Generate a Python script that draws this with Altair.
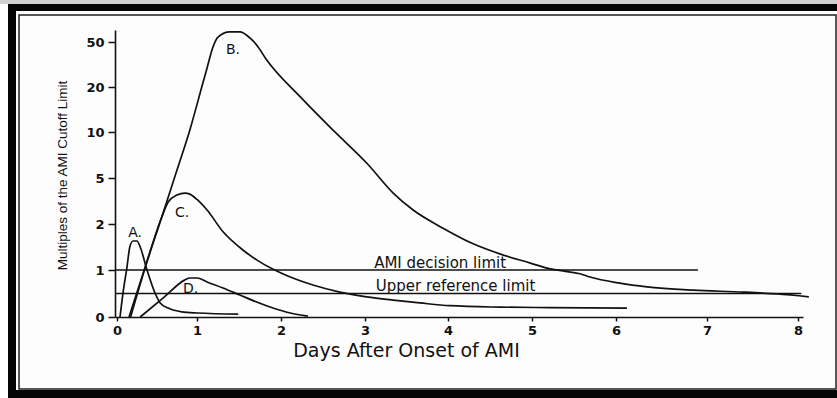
import altair as alt
import pandas as pd

# ---- Marker curves: days after onset vs. multiples of the AMI cutoff ----
a_days = [0.0375, 0.075, 0.125, 0.16, 0.20, 0.25, 0.29, 0.375, 0.475, 0.54, 0.64, 0.81, 1.01, 1.49]
a_mult = [0.0, 0.51, 1.065, 1.50, 1.63, 1.63, 1.50, 1.00, 0.51, 0.30, 0.19, 0.11, 0.085, 0.06]

b_days = [0.17, 0.35, 0.56, 0.75, 0.91, 1.07, 1.12, 1.19, 1.25, 1.39, 1.51, 1.63, 1.71, 1.83,
          2.23, 2.62, 3.02, 3.34, 3.58, 3.94, 4.30, 4.65, 4.98, 5.18, 5.37, 5.57, 5.69,
          6.04, 6.34, 6.85, 7.40, 7.77, 8.13]
b_mult = [0.0, 1.04, 2.46, 5.87, 10.4, 22.7, 32.7, 46.7, 53.3, 56.7, 56.7, 52.7, 48.0, 38.0,
          17.8, 10.4, 6.63, 4.02, 2.91, 1.91, 1.57, 1.33, 1.15, 1.04, 0.98, 0.92, 0.85,
          0.72, 0.64, 0.57, 0.53, 0.49, 0.43]

c_days = [0.15, 0.34, 0.56, 0.64, 0.75, 0.85, 0.91, 1.00, 1.12, 1.31, 1.55, 1.71, 1.90, 2.11,
          2.38, 2.70, 3.02, 3.34, 3.66, 4.02, 4.62, 5.21, 6.12]
c_mult = [0.0, 1.0, 2.46, 3.43, 3.89, 4.02, 3.95, 3.60, 2.91, 1.83, 1.43, 1.22, 1.02, 0.85,
          0.68, 0.53, 0.43, 0.36, 0.30, 0.24, 0.21, 0.20, 0.19]

d_days = [0.29, 0.575, 0.85, 0.91, 1.00, 1.12, 1.31, 1.51, 1.71, 1.87, 2.11, 2.32]
d_mult = [0.0, 0.40, 0.79, 0.83, 0.83, 0.745, 0.617, 0.468, 0.319, 0.213, 0.085, 0.02]

# Curve labels
curve_names = ["A.", "B.", "C.", "D."]
curve_label_days = [0.14, 1.345, 0.725, 0.825]
curve_label_mult = [1.72, 42.0, 2.46, 0.51]

# Reference lines
limit_names = ["AMI decision limit", "Upper reference limit"]
limit_mult = [1.0, 0.5]
limit_start = [-0.025, -0.025]
limit_end = [6.90, 8.04]
limit_text_days = [3.11, 3.13]
limit_text_mult = [1.054, 0.553]

# Axis ticks and the (non-uniform) scale breakpoints
x_ticks = [0, 1, 2, 3, 4, 5, 6, 7, 8]
y_ticks = [0, 1, 2, 5, 10, 20, 50]
x_domain = [-0.025, 0, 1, 2, 3, 4, 5, 6, 7, 8, 8.06]
x_range = [0, 2, 82, 166, 250, 333, 417, 501, 592, 683, 688]
y_domain = [0, 1, 2, 5, 10, 20, 50, 58]
y_range = [287, 240, 194, 148, 102, 57, 12, 0]

W, H = 688, 287
PAD_L, PAD_T = 115, 30
INK = "#111111"


def curve_frame(name, days, mult):
    return pd.DataFrame({"curve": name, "days": days, "mult": mult,
                         "order": list(range(len(days)))})


curves = pd.concat([
    curve_frame("A", a_days, a_mult),
    curve_frame("B", b_days, b_mult),
    curve_frame("C", c_days, c_mult),
    curve_frame("D", d_days, d_mult),
], ignore_index=True)

curve_labels = pd.DataFrame({"label": curve_names, "days": curve_label_days,
                             "mult": curve_label_mult})
limits = pd.DataFrame({"label": limit_names, "mult": limit_mult, "start": limit_start,
                       "end": limit_end, "tdays": limit_text_days, "tmult": limit_text_mult})

x_scale = alt.Scale(domain=x_domain, range=x_range, nice=False, zero=False)
y_scale = alt.Scale(domain=y_domain, range=y_range, nice=False, zero=False)

x_axis = alt.Axis(
    values=x_ticks, format="d", grid=False, labelFlush=False, zindex=2,
    tickSize=4, tickWidth=1.5, tickColor=INK, domainColor=INK, domainWidth=1.6,
    labelPadding=3, labelFont="DejaVu Sans", labelFontSize=13, labelFontWeight="bold",
    labelColor=INK, title="Days After Onset of AMI", titleFont="DejaVu Sans",
    titleFontSize=19, titleFontWeight="normal", titleColor=INK,
    titleX=291, titleY=39, titleAlign="center", titleBaseline="alphabetic",
)
y_axis = alt.Axis(
    values=y_ticks, format="d", grid=False, labelFlush=False, zindex=2,
    tickSize=7, tickWidth=1.5, tickColor=INK, domainColor=INK, domainWidth=1.6,
    labelPadding=4, labelFont="DejaVu Sans", labelFontSize=13, labelFontWeight="bold",
    labelColor=INK, title="Multiples of the AMI Cutoff Limit",
    titleFont="Liberation Sans",
    titleFontSize=13.5, titleFontWeight="normal", titleColor=INK,
    titleX=-53, titleY=145, titleAngle=270, titleAlign="center", titleBaseline="middle",
)


def box(x1, x2, y1, y2, fill):
    return alt.Chart(alt.Data(values=[{}])).mark_rect(color=fill).encode(
        x=alt.value(x1), x2=alt.value(x2), y=alt.value(y1), y2=alt.value(y2))


# Page frame (coordinates relative to the plot origin)
frame = [
    box(-PAD_L, 722, -PAD_T, -26, "#d0d0d0"),
    box(-107, 722, -26, -19, "#050505"),
    box(-107, -99, -26, 368, "#050505"),
    box(-107, 722, 360, 368, "#050505"),
    alt.Chart(alt.Data(values=[{}])).mark_rect(
        fill="#fdfdfd", stroke="#222222", strokeWidth=1.5).encode(
        x=alt.value(-96), x2=alt.value(721), y=alt.value(-15), y2=alt.value(359)),
]

lines = alt.Chart(curves).mark_line(
    color=INK, strokeWidth=1.7, interpolate="monotone").encode(
    x=alt.X("days:Q", scale=x_scale, axis=x_axis),
    y=alt.Y("mult:Q", scale=y_scale, axis=y_axis),
    detail="curve:N",
    order="order:Q",
)

rules = alt.Chart(limits).mark_rule(color=INK, strokeWidth=1.5).encode(
    x=alt.X("start:Q", scale=x_scale, axis=x_axis),
    x2="end:Q",
    y=alt.Y("mult:Q", scale=y_scale, axis=y_axis),
)

limit_text = alt.Chart(limits).mark_text(
    align="left", baseline="alphabetic", font="DejaVu Sans", fontSize=15, color=INK).encode(
    x=alt.X("tdays:Q", scale=x_scale),
    y=alt.Y("tmult:Q", scale=y_scale),
    text="label:N",
)

name_text = alt.Chart(curve_labels).mark_text(
    align="left", baseline="alphabetic", font="DejaVu Sans", fontSize=14, color=INK).encode(
    x=alt.X("days:Q", scale=x_scale),
    y=alt.Y("mult:Q", scale=y_scale),
    text="label:N",
)

chart = alt.layer(*frame, rules, lines, limit_text, name_text).properties(
    width=W, height=H,
    autosize=alt.AutoSizeParams(type="none"),
    padding={"left": PAD_L, "top": PAD_T, "right": 837 - PAD_L - W, "bottom": 398 - PAD_T - H},
    background="#ffffff",
).configure_view(stroke=None)

chart.save("out.html", embed_options={"renderer": "svg", "actions": False})
